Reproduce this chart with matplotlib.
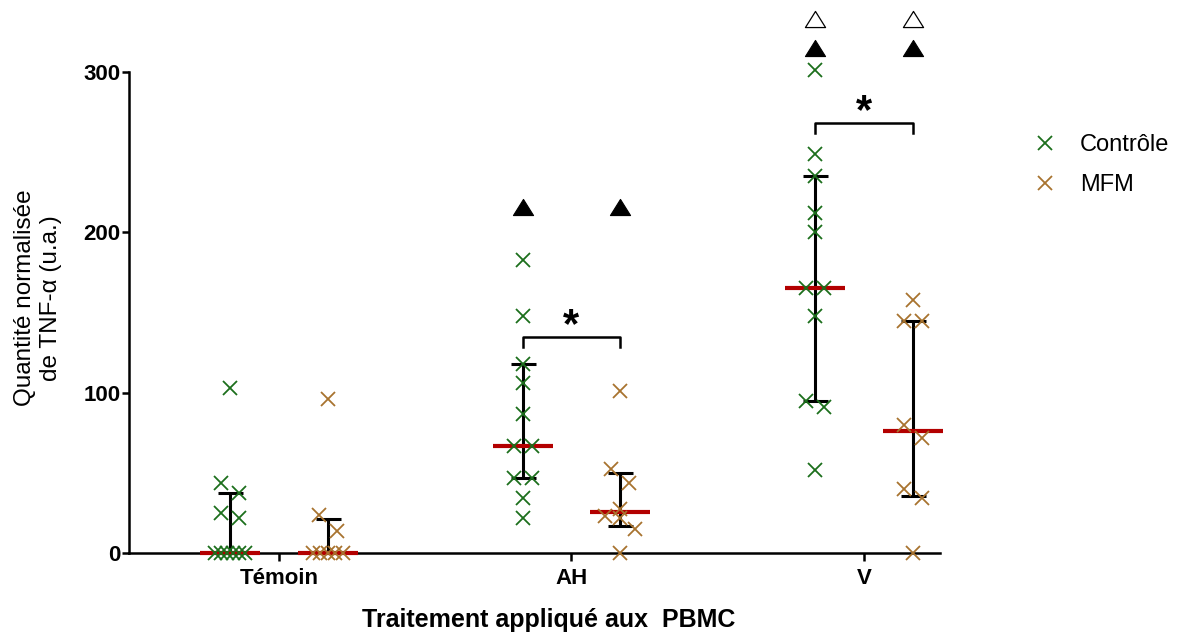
import numpy as np
import matplotlib
matplotlib.use('Agg')
import matplotlib.pyplot as plt
from matplotlib.path import Path
from matplotlib.lines import Line2D

plt.rcParams['font.family'] = ['Liberation Sans', 'DejaVu Sans']

# ---------------- data ----------------
categories = ['Témoin', 'AH', 'V']
series_names = ['Contrôle', 'MFM']
controle_temoin = [103, 43.7, 37.4, 25, 21.8, 0, 0, 0, 0, 0, 0]
controle_ah = [183, 148, 118, 106, 87, 67, 67, 47, 47, 34, 22]
controle_v = [301, 249, 235, 212, 200, 165, 165, 148, 95, 91, 52]
mfm_temoin = [96, 24, 14, 0, 0, 0, 0, 0]
mfm_ah = [101, 52.4, 43.5, 27.3, 23.3, 21.6, 15, 0]
mfm_v = [158, 145, 145, 80, 71.6, 40, 34, 0]
yticks = [0, 100, 200, 300]

# significance annotations (value level)
filled_triangle_y = {'AH': 216, 'V': 315}
open_triangle_y = {'V': 333}
bracket_y = {'AH': 135, 'V': 268.5}

# ---------------- layout / style ----------------
W, H = 1180, 637
AX_L, AX_R, AX_T, AX_B = 129, 940, 72, 553
XLIM = (-0.513, 2.26)
YLIM = (0, 300)
OFFSET = 0.167
COLORS = ['#1c6f1c', '#a8732f']
MEDIAN_COLOR = '#b30000'

fig = plt.figure(figsize=(W / 100, H / 100), dpi=100)
ax = fig.add_axes([AX_L / W, 1 - AX_B / H, (AX_R - AX_L) / W, (AX_B - AX_T) / H])
ax.set_xlim(*XLIM)
ax.set_ylim(*YLIM)

px_per_x = (AX_R - AX_L) / (XLIM[1] - XLIM[0])
px_per_y = (AX_B - AX_T) / (YLIM[1] - YLIM[0])


def swarm(values, row_px=18, step_px=18, max_width_px=30):
    vals = sorted(values)
    rows = []
    for v in vals:
        if rows and (v - rows[-1][0]) * px_per_y <= row_px:
            rows[-1].append(v)
        else:
            rows.append([v])
    out = []
    for row in rows:
        n = len(row)
        sp = step_px if n == 1 else min(step_px, max_width_px / (n - 1))
        for i, v in enumerate(sorted(row, reverse=True)):
            out.append(((i - (n - 1) / 2) * sp / px_per_x, v))
    return out


data = [[controle_temoin, controle_ah, controle_v],
        [mfm_temoin, mfm_ah, mfm_v]]

for s, name in enumerate(series_names):
    sign = -1 if s == 0 else 1
    for c, cat in enumerate(categories):
        vals = np.array(data[s][c], dtype=float)
        xc = c + sign * OFFSET
        q1, med, q3 = np.percentile(vals, [25, 50, 75], method='weibull')
        ax.errorbar([xc], [med], yerr=[[med - q1], [q3 - med]], fmt='none',
                    ecolor='black', elinewidth=2.2, capsize=9, capthick=2.2,
                    zorder=2, clip_on=False)
        half = 30 / px_per_x
        ax.plot([xc - half, xc + half], [med, med], color=MEDIAN_COLOR, lw=3,
                solid_capstyle='butt', zorder=3, clip_on=False)
        pts = swarm(vals)
        ax.plot([xc + dx for dx, _ in pts], [v for _, v in pts], linestyle='none',
                marker='x', ms=9.5, mew=1.3, color=COLORS[s], zorder=4, clip_on=False)

# triangles
tri = Path([(0, 0.8), (-1, -0.8), (1, -0.8), (0, 0.8)],
           [Path.MOVETO, Path.LINETO, Path.LINETO, Path.CLOSEPOLY])
for c, cat in enumerate(categories):
    for sign in (-1, 1):
        xc = c + sign * OFFSET
        if cat in filled_triangle_y:
            ax.plot([xc], [filled_triangle_y[cat]], marker=tri, ms=14.5, color='black',
                    mec='black', mew=0.8, linestyle='none', clip_on=False, zorder=5)
        if cat in open_triangle_y:
            ax.plot([xc], [open_triangle_y[cat]], marker=tri, ms=14.5, mfc='white',
                    mec='black', mew=0.9, linestyle='none', clip_on=False, zorder=5)
    if cat in bracket_y:
        yb = bracket_y[cat]
        leg = 10 / px_per_y
        ax.plot([c - OFFSET, c - OFFSET, c + OFFSET, c + OFFSET],
                [yb - leg, yb, yb, yb - leg], color='black', lw=1.8,
                clip_on=False, zorder=5)
        ax.text(c, yb - 10 / px_per_y, '*', ha='center', va='bottom', fontsize=30,
                fontweight='bold', clip_on=False)

# axes styling
for sp in ['top', 'right']:
    ax.spines[sp].set_visible(False)
for sp in ['left', 'bottom']:
    ax.spines[sp].set_linewidth(1.8)
ax.set_yticks(yticks)
ax.set_yticklabels([str(t) for t in yticks], fontsize=16, fontweight='bold')
ax.set_xticks(range(len(categories)))
ax.set_xticklabels(categories, fontsize=16, fontweight='bold')
ax.tick_params(axis='y', direction='out', length=5, width=1.8, pad=1)
ax.tick_params(axis='x', direction='out', length=6, width=1.8, pad=5)

ax.set_xlabel('Traitement appliqué aux  PBMC', fontsize=18, fontweight='bold')
ax.xaxis.set_label_coords((549 - AX_L) / (AX_R - AX_L), -(620 - AX_B) / (AX_B - AX_T))
ax.xaxis.label.set_va('center')
ax.set_ylabel('Quantité normalisée\nde TNF-α (u.a.)', fontsize=17.5,
              multialignment='center', linespacing=1.25)
ax.yaxis.label.set_va('center')
ax.yaxis.set_label_coords((38 - AX_L) / (AX_R - AX_L), (AX_B - 298) / (AX_B - AX_T))

handles = [Line2D([], [], linestyle='none', marker='x', ms=9.5, mew=1.3, color=col)
           for col in COLORS]
fig.legend(handles, series_names, loc='center left',
           bbox_to_anchor=(1033 / W, 1 - 165 / H), frameon=False, fontsize=17,
           handlelength=1.0, handletextpad=1.0, labelspacing=0.78, borderpad=0,
           borderaxespad=0)

fig.savefig('out.png', dpi=100)
